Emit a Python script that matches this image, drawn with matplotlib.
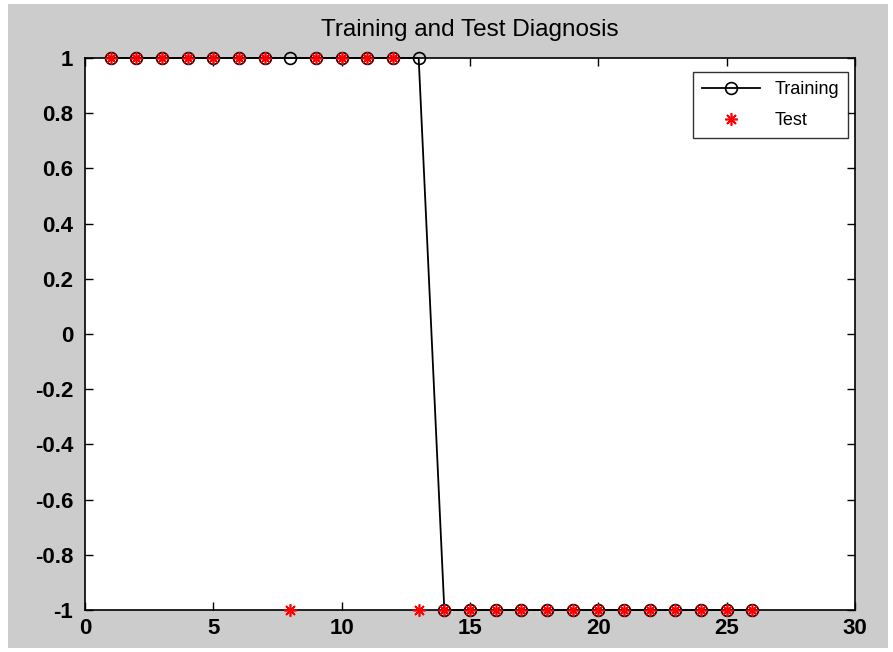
import matplotlib
matplotlib.use('Agg')
import matplotlib.pyplot as plt
from matplotlib.patches import Rectangle

plt.rcParams['font.family'] = ['Liberation Sans', 'DejaVu Sans']

# sample index
samples = list(range(1, 27))
# training targets
training = [1] * 13 + [-1] * 13
# test diagnosis (samples 8 and 13 misclassified)
test = [1, 1, 1, 1, 1, 1, 1, -1, 1, 1, 1, 1, -1,
        -1, -1, -1, -1, -1, -1, -1, -1, -1, -1, -1, -1, -1]

fig = plt.figure(figsize=(8.93, 6.52), dpi=100, facecolor='white')
fig.patches.append(Rectangle((8 / 893, 4 / 652), 880 / 893, 644 / 652,
                             transform=fig.transFigure, facecolor='#cccccc',
                             edgecolor='none', zorder=-10))
ax = fig.add_axes([85 / 893, 1 - 610 / 652, 770 / 893, 552 / 652])
ax.set_facecolor('white')

ax.plot(samples, training, color='black', lw=1.3, marker='o', markersize=8.5,
        markerfacecolor='none', markeredgecolor='black', markeredgewidth=1.2,
        label='Training', clip_on=False, zorder=3)
ax.plot(samples, test, linestyle='none', marker=(8, 2, 0), markersize=9,
        color='red', markeredgewidth=1.2, label='Test', clip_on=False, zorder=4)

ax.set_xlim(0, 30)
ax.set_ylim(-1, 1)
ax.set_xticks([0, 5, 10, 15, 20, 25, 30])
ax.set_yticks([-1, -0.8, -0.6, -0.4, -0.2, 0, 0.2, 0.4, 0.6, 0.8, 1])
ax.set_yticklabels(['-1', '-0.8', '-0.6', '-0.4', '-0.2', '0', '0.2', '0.4',
                    '0.6', '0.8', '1'])
ax.tick_params(direction='in', top=True, right=True, length=6, width=1,
               labelsize=16)
ax.tick_params(axis='x', pad=5.5)
ax.tick_params(axis='y', pad=8.5)
for lbl in ax.get_xticklabels() + ax.get_yticklabels():
    lbl.set_fontweight('bold')
for s in ax.spines.values():
    s.set_linewidth(1.2)

ax.set_title('Training and Test Diagnosis', fontsize=17.5, pad=16)

leg = ax.legend(loc='upper right', bbox_to_anchor=(0.991, 0.975), fontsize=13,
                frameon=True, fancybox=False, edgecolor='black',
                borderaxespad=0, handlelength=3.2, borderpad=0.5,
                labelspacing=0.8)
leg.get_frame().set_linewidth(1.0)

fig.savefig('out.png', dpi=100)
